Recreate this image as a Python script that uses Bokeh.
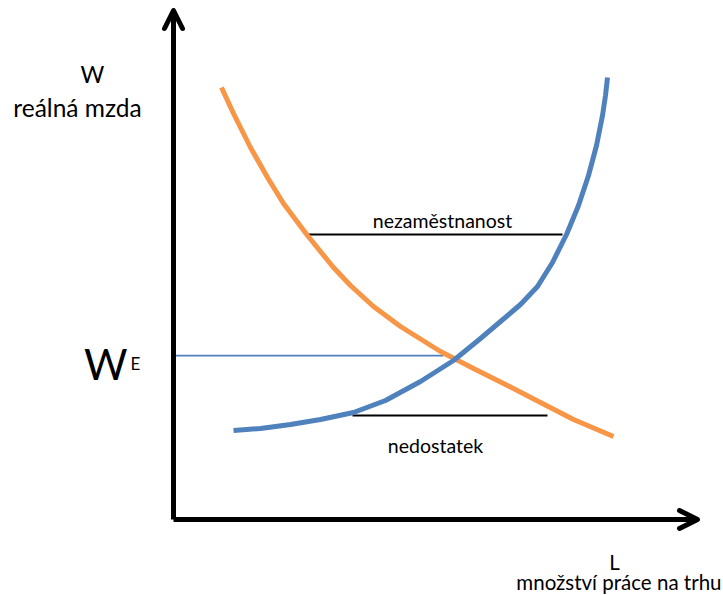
from bokeh.plotting import figure
from bokeh.models import Range1d, Arrow, OpenHead
from bokeh.core.properties import value
from bokeh.embed import file_html
from bokeh.resources import INLINE

# Demand curve (orange) - labour quantity L vs real wage W
demand_L = [4.8, 6.0, 7.7, 9.4, 11.0, 13.4, 16.0, 17.7, 20.0, 22.7, 26.7, 30.0, 33.4, 36.7, 40.0, 44.0]
demand_W = [43.2, 40.6, 37.2, 34.2, 31.6, 28.4, 25.2, 23.4, 21.3, 19.3, 16.8, 15.1, 13.4, 11.7, 10.0, 8.3]

# Supply curve (blue)
supply_L = [6.0, 8.7, 11.7, 14.7, 18.0, 21.2, 24.7, 28.0, 30.7, 32.7, 34.7, 36.4, 37.9, 39.3, 40.5, 41.5, 42.3, 42.9, 43.2, 43.4]
supply_W = [8.9, 9.1, 9.5, 10.0, 10.7, 11.9, 13.8, 15.9, 18.1, 19.8, 21.5, 23.3, 25.7, 28.5, 31.4, 34.4, 37.4, 40.4, 42.4, 44.2]

# Equilibrium wage line
eq_W = 16.4
eq_L = [0.2, 27.0]

# Gap lines
unemp_W = 28.5
unemp_L = [13.4, 38.9]
short_W = 10.4
short_L = [17.9, 37.4]

# Axis extents
axis_L_max = 52.4
axis_W_max = 50.9

FONT = "Lato"

p = figure(width=723, height=595, output_backend="svg", toolbar_location=None,
           x_range=Range1d(-17.3, 55.0), y_range=Range1d(-7.6, 51.9),
           min_border=0, outline_line_color=None)
p.axis.visible = False
p.grid.visible = False
p.background_fill_color = "white"
p.border_fill_color = "white"

# axes with arrows
p.add_layout(Arrow(x_start=0, y_start=0, x_end=0, y_end=axis_W_max, line_width=5, line_color="black",
                   end=OpenHead(size=18, line_width=5, line_color="black", line_join="round", line_cap="round")))
p.add_layout(Arrow(x_start=0, y_start=0, x_end=axis_L_max, y_end=0, line_width=5, line_color="black",
                   end=OpenHead(size=18, line_width=5, line_color="black", line_join="round", line_cap="round")))

# equilibrium line
p.line(eq_L, [eq_W, eq_W], line_color="#4F81BD", line_width=1.75)

# gap lines
p.line(unemp_L, [unemp_W, unemp_W], line_color="black", line_width=2)
p.line(short_L, [short_W, short_W], line_color="black", line_width=2)

# curves
p.line(demand_L, demand_W, line_color="#F79646", line_width=5, line_join="round")
p.line(supply_L, supply_W, line_color="#4F81BD", line_width=5, line_join="round")

def txt(x, y, s, size, align="center"):
    p.text(x=[x], y=[y], text=[s], text_font=value(FONT), text_font_size=value(size),
           text_align=align, text_baseline="alphabetic", text_color="black")

txt(-8.1, 44.6, "W", "23px")
txt(-9.6, 41.2, "reálná mzda", "24.5px")
txt(-4.6, 15.6, "W", "42px", "right")
txt(-4.3, 15.6, "E", "17px", "left")
txt(26.9, 29.9, "nezaměstnanost", "19.5px")
txt(26.2, 7.4, "nedostatek", "19.5px")
txt(44.1, -4.2, "L", "20.5px")
txt(54.8, -6.2, "množství práce na trhu", "20.5px", "right")

open("out.html", "w").write(file_html(p, INLINE))
